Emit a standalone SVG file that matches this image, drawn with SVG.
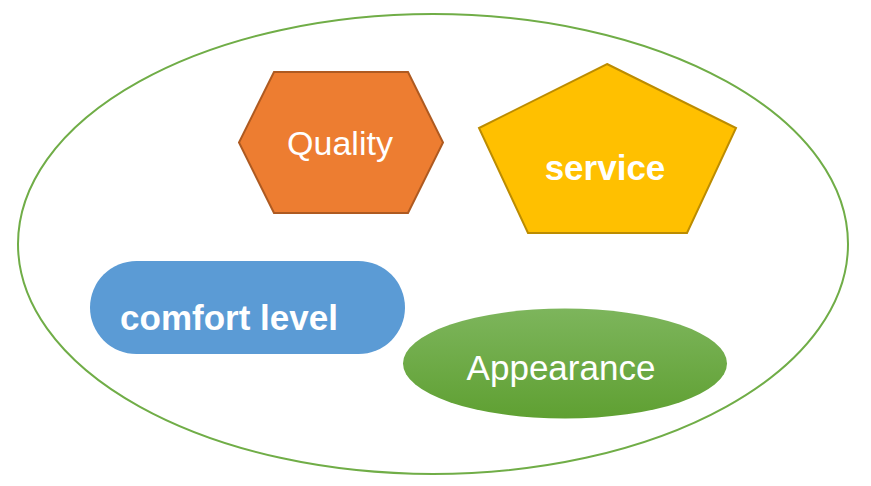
<svg xmlns="http://www.w3.org/2000/svg" width="871" height="486" viewBox="0 0 871 486">
  <defs>
    <linearGradient id="gGreen" x1="0" y1="0" x2="0" y2="1">
      <stop offset="0" stop-color="#7DB55C"/>
      <stop offset="1" stop-color="#5FA032"/>
    </linearGradient>
    <style>
      .lbl { font-family: "Liberation Sans", Arial, sans-serif; font-size: 35px; fill: #FFFFFF; text-anchor: middle; }
      .bold { font-weight: bold; }
    </style>
  </defs>
  <rect width="871" height="486" fill="#FFFFFF"/>
  <g id="outer">
    <ellipse cx="433" cy="244" rx="415" ry="230" fill="none" stroke="#70AD47" stroke-width="2"/>
  </g>
  <g id="quality">
    <polygon points="274,72 408,72 443,142.5 408,213 274,213 239,142.5" fill="#ED7D31" stroke="#AE5A21" stroke-width="2"/>
    <text class="lbl" x="340" y="155" style="font-size:34px">Quality</text>
  </g>
  <g id="service">
    <polygon points="607,64 736,128 687,233 528,233 479,128" fill="#FFC000" stroke="#BC8C00" stroke-width="2"/>
    <text class="lbl bold" x="605" y="180">service</text>
  </g>
  <g id="comfort">
    <rect x="90" y="261" width="315" height="93" rx="46.5" ry="46.5" fill="#5B9BD5"/>
    <text class="lbl bold" x="229" y="330">comfort level</text>
  </g>
  <g id="appearance">
    <ellipse cx="565" cy="363.5" rx="162" ry="55" fill="url(#gGreen)"/>
    <text class="lbl" x="561" y="380">Appearance</text>
  </g>
  <g id="connectors"></g>
</svg>
